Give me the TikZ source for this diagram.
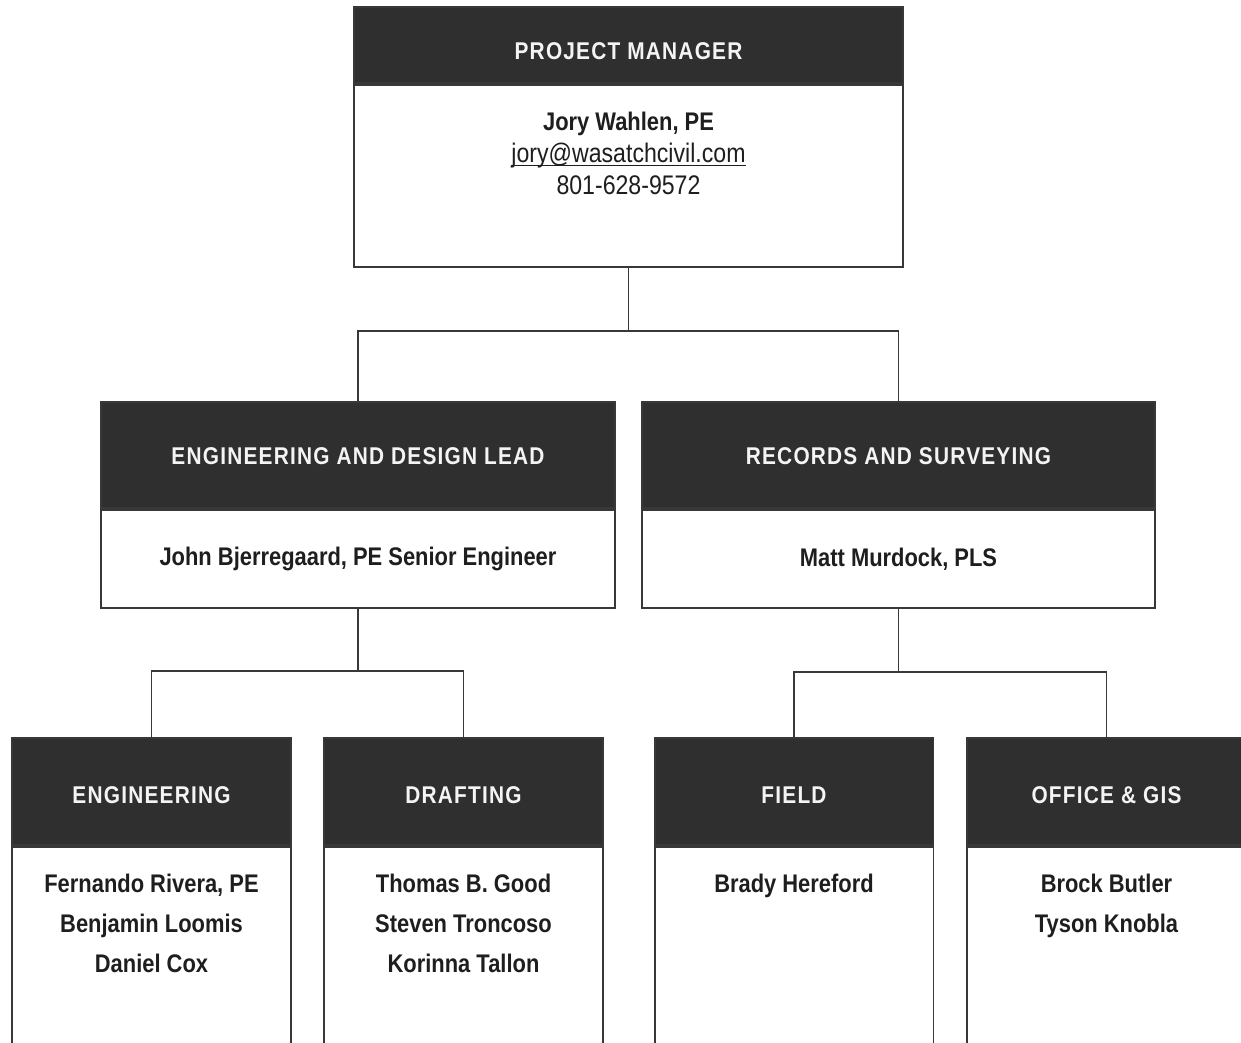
\documentclass[tikz,border=0pt]{standalone}
\usepackage{fontspec}
\setmainfont{Liberation Sans}[FakeStretch=0.86]
\newfontfamily\headfont{Liberation Sans}[FakeStretch=0.86,LetterSpace=5]
\usetikzlibrary{positioning}
\definecolor{OrgDark}{HTML}{2F2F2F}
\definecolor{OrgLine}{HTML}{383838}
\definecolor{OrgText}{HTML}{1E1E1E}
\definecolor{OrgWhite}{HTML}{F4F4F4}

\begin{document}
\begin{tikzpicture}[x=0.02cm,y=-0.02cm,
    head/.style={draw=OrgLine,fill=OrgDark,line width=1.1pt,text=OrgWhite,
      inner sep=0pt,font=\headfont\bfseries\fontsize{13.8}{16}\selectfont},
    body/.style={draw=OrgLine,fill=white,line width=1.1pt,inner sep=0pt,
      text=OrgText,font=\bfseries\fontsize{14.5}{18}\selectfont},
    names/.style={anchor=north,align=center,inner sep=0pt,text=OrgText,
      font=\bfseries\fontsize{14.5}{22.7}\selectfont},
    link/.style={OrgLine,line width=1.1pt}]
  \useasboundingbox (0,0) rectangle (1241,1043);

  % top level
  \node[head,minimum width=10.98cm,minimum height=1.52cm,text height=0.58cm]
    (pmhead) at (628.5,45) {PROJECT MANAGER};
  \node[body,minimum width=10.98cm,minimum height=3.64cm,below=0pt of pmhead]
    (pmbody) {};
  \node[names,font=\fontsize{15.3}{18.2}\selectfont,below=0.56cm of pmbody.north]
    (pmnames) {{\fontsize{14.5}{18.2}\selectfont\bfseries Jory Wahlen, PE}\\
      \underline{\smash{jory@wasatchcivil.com}}\\
      801-628-9572};

  % second level
  \node[head,minimum width=10.28cm,minimum height=2.12cm,text height=0.37cm]
    (edhead) at (358,455) {ENGINEERING AND DESIGN LEAD};
  \node[body,minimum width=10.28cm,minimum height=1.96cm,below=0pt of edhead]
    (edbody) {John Bjerregaard, PE Senior Engineer};
  \node[head,minimum width=10.28cm,minimum height=2.12cm,text height=0.37cm]
    (rshead) at (898.5,455) {RECORDS AND SURVEYING};
  \node[body,minimum width=10.28cm,minimum height=1.96cm,below=0pt of rshead]
    (rsbody) {Matt Murdock, PLS};

  % third level
  \node[head,minimum width=5.58cm,minimum height=2.14cm,text height=0.5cm]
    (enghead) at (151.5,791.5) {ENGINEERING};
  \node[body,minimum width=5.58cm,minimum height=5cm,below=0pt of enghead]
    (engbody) {};
  \node[names,below=0.56cm of engbody.north]
    (engnames) {Fernando Rivera, PE\\ Benjamin Loomis\\ Daniel Cox};

  \node[head,minimum width=5.58cm,minimum height=2.14cm,text height=0.5cm]
    (drafthead) at (463.5,791.5) {DRAFTING};
  \node[body,minimum width=5.58cm,minimum height=5cm,below=0pt of drafthead]
    (draftbody) {};
  \node[names,below=0.56cm of draftbody.north]
    (draftnames) {Thomas B. Good\\ Steven Troncoso\\ Korinna Tallon};

  \node[head,minimum width=5.58cm,minimum height=2.14cm,text height=0.5cm]
    (fieldhead) at (794,791.5) {FIELD};
  \node[body,minimum width=5.58cm,minimum height=5cm,below=0pt of fieldhead]
    (fieldbody) {};
  \node[names,below=0.56cm of fieldbody.north]
    (fieldnames) {Brady Hereford};

  \node[head,minimum width=5.58cm,minimum height=2.14cm,text height=0.5cm]
    (gishead) at (1106.5,791.5) {OFFICE \& GIS};
  \node[body,minimum width=5.58cm,minimum height=5cm,below=0pt of gishead]
    (gisbody) {};
  \node[names,below=0.56cm of gisbody.north]
    (gisnames) {Brock Butler\\ Tyson Knobla};

  % connectors
  \draw[link] (pmbody.south) -- ++(0,63) -| (edhead.north);
  \draw[link] (pmbody.south) -- ++(0,63) -| (rshead.north);
  \draw[link] (edbody.south) -- ++(0,62) -| (enghead.north);
  \draw[link] (edbody.south) -- ++(0,62) -| (drafthead.north);
  \draw[link] (rsbody.south) -- ++(0,63) -| (fieldhead.north);
  \draw[link] (rsbody.south) -- ++(0,63) -| (gishead.north);
\end{tikzpicture}
\end{document}
